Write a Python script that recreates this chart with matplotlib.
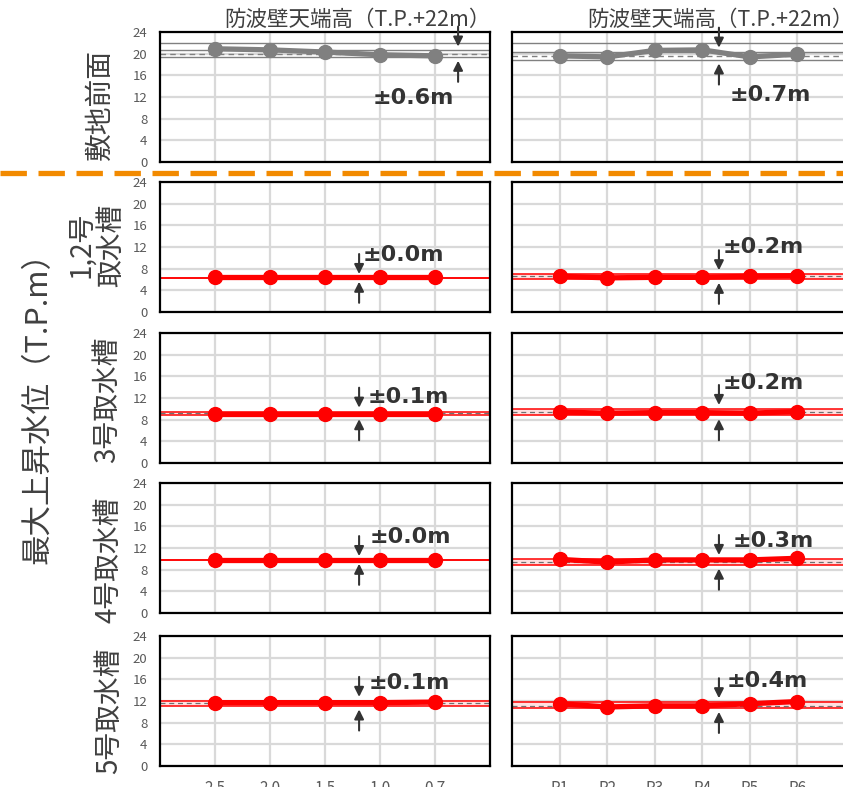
import matplotlib
matplotlib.use("Agg")
import matplotlib.pyplot as plt
from matplotlib.lines import Line2D

plt.rcParams["font.family"] = ["Noto Sans CJK JP", "DejaVu Sans"]

W, H = 843, 787

# ---- data ----
left_cats = ["2.5", "2.0", "1.5", "1.0", "0.7"]
right_cats = ["P1", "P2", "P3", "P4", "P5", "P6"]
row_labels = ["敷地前面", "1,2号\n取水槽", "3号取水槽", "4号取水槽", "5号取水槽"]
wall_label = "防波壁天端高（T.P.+22m）"
wall_height = 22
y_label = "最大上昇水位（T.P.m）"

left_vals = [
    [20.9, 20.7, 20.3, 19.8, 19.6],
    [6.4, 6.4, 6.4, 6.4, 6.4],
    [9.1, 9.1, 9.1, 9.1, 9.1],
    [9.8, 9.8, 9.8, 9.8, 9.8],
    [11.7, 11.7, 11.7, 11.7, 11.8],
]
right_vals = [
    [19.6, 19.4, 20.6, 20.7, 19.4, 19.9],
    [6.6, 6.3, 6.4, 6.4, 6.6, 6.7],
    [9.4, 9.2, 9.3, 9.3, 9.2, 9.5],
    [9.9, 9.4, 9.8, 9.8, 9.8, 10.1],
    [11.5, 10.9, 11.1, 11.1, 11.5, 11.9],
]
# reference band (upper, middle, lower) per panel
left_band = [
    (20.6, 20.0, 19.4),
    (6.3, 6.3, 6.3),
    (9.5, 9.15, 8.8),
    (9.8, 9.8, 9.8),
    (12.05, 11.6, 11.15),
]
right_band = [
    (20.4, 19.5, 18.9),
    (7.0, 6.6, 6.1),
    (10.0, 9.5, 8.8),
    (10.0, 9.5, 8.9),
    (11.8, 11.1, 10.7),
]
left_spread = ["±0.6m", "±0.0m", "±0.1m", "±0.0m", "±0.1m"]
right_spread = ["±0.7m", "±0.2m", "±0.2m", "±0.3m", "±0.4m"]

# ---- layout (pixels) ----
row_tops = [32, 182, 333, 483, 636]
ax_h = 130
left_px = (160, 330)
right_px = (512, 333)
row_label_pos = [(100, 105), (96, 245), (107, 400), (108, 560), (109, 711)]

# annotation placement: arrow x, text x, text y (data units)
left_note = [(5.42, 3.87, 11.8), (3.62, 3.69, 10.5), (3.62, 3.78, 12.2),
             (3.62, 3.82, 14.0), (3.62, 3.80, 15.3)]
right_note = [(4.35, 4.58, 12.4), (4.35, 4.43, 12.0), (4.35, 4.43, 14.8),
              (4.35, 4.64, 13.3), (4.35, 4.52, 15.7)]

GRAY = "#808080"
RED = "#ff0000"
TXT = "#404040"
TICK = "#595959"
NOTE = "#333333"


def px_rect(x0, w, top):
    return [x0 / W, 1 - (top + ax_h) / H, w / W, ax_h / H]


def draw_panel(ax, cats, vals, band, spread, note, color, bottom):
    n = len(cats)
    xs = list(range(1, n + 1))
    ax.set_xlim(0, n + 1)
    ax.set_ylim(0, 24)
    ax.set_yticks(range(0, 25, 4))
    ax.set_xticks(xs)
    ax.grid(True, color="#d9d9d9", lw=1.6, zorder=0)
    ax.set_axisbelow(True)
    for s in ax.spines.values():
        s.set_color("black")
        s.set_linewidth(1.6)
    ax.tick_params(length=0, labelsize=9.5, labelcolor=TICK, pad=9)
    if bottom:
        ax.set_xticklabels(cats, fontsize=11, color=TICK)
        ax.tick_params(axis="x", pad=10)
    else:
        ax.set_xticklabels([])

    hi, mid, lo = band
    if color == GRAY:
        ax.axhline(wall_height, color=GRAY, lw=1.0, zorder=2)
        ax.axhline(hi, color=GRAY, lw=1.0, zorder=2)
        ax.axhline(lo, color=GRAY, lw=1.0, zorder=2)
        ax.axhline(mid, color=GRAY, lw=1.0, ls=(0, (4, 3)), zorder=2)
    else:
        ax.axhline(hi, color=RED, lw=1.1, zorder=2)
        ax.axhline(lo, color=RED, lw=1.1, zorder=2)
        if hi != lo:
            ax.axhspan(lo, hi, color="#ffe0e0", lw=0, zorder=1.5)
            ax.axhline(mid, color="#707070", lw=0.9, ls=(0, (4, 3)), zorder=2)

    ax.plot(xs, vals, color=color, lw=3.8, marker="o", ms=10,
            solid_capstyle="round", zorder=4)

    ax_x, tx, ty = note
    c = (hi + lo) / 2
    hw = (hi - lo) / 2
    ap = dict(arrowstyle="-|>", color=NOTE, lw=1.5, mutation_scale=14,
              shrinkA=0, shrinkB=0)
    ax.annotate("", xy=(ax_x, c + hw + 0.7), xytext=(ax_x, c + hw + 4.4),
                arrowprops=ap, zorder=5)
    ax.annotate("", xy=(ax_x, c - hw - 0.7), xytext=(ax_x, c - hw - 4.6),
                arrowprops=ap, zorder=5)
    ax.text(tx, ty, spread, fontsize=16, fontweight="bold", color=NOTE,
            family="DejaVu Sans", ha="left", va="center", zorder=6)


fig = plt.figure(figsize=(W / 100, H / 100), dpi=100)

for i in range(5):
    bottom = i == 4
    axl = fig.add_axes(px_rect(left_px[0], left_px[1], row_tops[i]))
    axr = fig.add_axes(px_rect(right_px[0], right_px[1], row_tops[i]))
    color = GRAY if i == 0 else RED
    draw_panel(axl, left_cats, left_vals[i], left_band[i], left_spread[i],
               left_note[i], color, bottom)
    draw_panel(axr, right_cats, right_vals[i], right_band[i], right_spread[i],
               right_note[i], color, bottom)
    axr.set_yticklabels([])
    lx, ly = row_label_pos[i]
    fig.text(lx / W, 1 - ly / H, row_labels[i], rotation=90, fontsize=20,
             color=TXT, ha="center", va="center", multialignment="center",
             linespacing=1.0)

# wall height titles
fig.text(491 / W, 1 - 20 / H, wall_label, fontsize=15.5, color=TXT,
         ha="right", va="center")
fig.text(587 / W, 1 - 20 / H, wall_label, fontsize=15.5, color=TXT,
         ha="left", va="center")

# overall y label
fig.text(38 / W, 1 - 400 / H, y_label, rotation=90, fontsize=22, color=TXT,
         ha="center", va="center")

# orange separator between site-front and intake panels
fig.add_artist(Line2D([0, 1], [1 - 173 / H, 1 - 173 / H], color="#f28a00",
                      lw=3.8, ls=(0, (5, 2.2)), transform=fig.transFigure))

fig.savefig("out.png", dpi=100)
